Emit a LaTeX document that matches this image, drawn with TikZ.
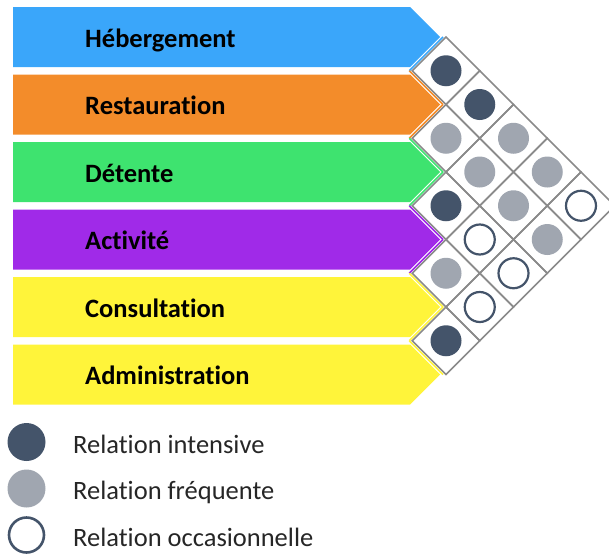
\documentclass[tikz,border=0pt]{standalone}
\usepackage{fontspec}
\setmainfont{Carlito}[Ligatures={NoCommon}]
\definecolor{cblue}{HTML}{3AA6FA}
\definecolor{corange}{HTML}{F38C2A}
\definecolor{cgreen}{HTML}{3EE36F}
\definecolor{cpurple}{HTML}{A02AE8}
\definecolor{cyellow}{HTML}{FFF43A}
\definecolor{cdark}{HTML}{44546A}
\definecolor{cgray}{HTML}{A0A6B0}
\definecolor{cgrid}{HTML}{8A8A8A}
\begin{document}
\begin{tikzpicture}[x=1pt,y=-1pt,
  barlabel/.style={font=\fontsize{26.5}{30}\selectfont\bfseries, text=black, inner sep=0, anchor=base west},
  leglabel/.style={font=\fontsize{26.5}{30}\selectfont, text=black!85, inner sep=0, anchor=base west},
  gridline/.style={draw=cgrid, line width=1.6pt, line join=miter},
  edgeline/.style={line width=1.5pt},
  darkdot/.style={circle, fill=cdark, minimum size=31pt, inner sep=0},
  graydot/.style={circle, fill=cgray, minimum size=31pt, inner sep=0},
  opendot/.style={circle, draw=cdark, fill=white, line width=2.2pt, minimum size=30pt, inner sep=0},
]
\useasboundingbox (0,0) rectangle (609,554);
% bars
\foreach \i/\col/\lab/\nm in {0/cblue/Hébergement/heb,1/corange/Restauration/res,2/cgreen/Détente/det,3/cpurple/Activité/act,4/cyellow/Consultation/con,5/cyellow/Administration/adm}{
  \pgfmathsetmacro{\c}{37+67.5*\i}
  \fill[\col] (13,\c-30) -- (410,\c-30) -- (440,\c) -- (410,\c+30) -- (13,\c+30) -- cycle;
  \node[barlabel] (\nm) at (85,\c+10) {\lab};
  \ifnum\i>0
    \draw[edgeline,\col] (409.25,\c-33.75) -- (443,\c);
  \fi
  \ifnum\i<5
    \draw[edgeline,\col] (443,\c) -- (409.25,\c+33.75);
  \fi
}
% grid cells
\foreach \k/\n in {0/4,1/3,2/2,3/1,4/0}{
  \foreach \i in {0,...,\n}{
    \pgfmathsetmacro{\x}{446+33.75*\k}
    \pgfmathsetmacro{\y}{70.75+67.5*\i+33.75*\k}
    \draw[gridline] (\x-33.75,\y) -- (\x,\y-33.75) -- (\x+33.75,\y) -- (\x,\y+33.75) -- cycle;
  }
}
% circles
\foreach \k/\i/\s in {0/0/darkdot,0/1/graydot,0/2/darkdot,0/3/graydot,0/4/darkdot,
  1/0/darkdot,1/1/graydot,1/2/opendot,1/3/opendot,
  2/0/graydot,2/1/graydot,2/2/opendot,
  3/0/graydot,3/1/graydot,
  4/0/opendot}{
  \pgfmathsetmacro{\x}{446+33.75*\k}
  \pgfmathsetmacro{\y}{70.75+67.5*\i+33.75*\k}
  \node[\s] (m-\k-\i) at (\x,\y) {};
}
% legend
\node[darkdot, minimum size=38pt] (ld) at (26.5,442) {};
\node[graydot, minimum size=38pt] (lg) at (26.5,488.5) {};
\node[opendot, minimum size=35pt, line width=2.6pt] (lo) at (26.5,535) {};
\node[leglabel] (tld) at (73,453) {Relation intensive};
\node[leglabel] (tlg) at (73,499.5) {Relation fréquente};
\node[leglabel] (tlo) at (73,546) {Relation occasionnelle};
\end{tikzpicture}
\end{document}
